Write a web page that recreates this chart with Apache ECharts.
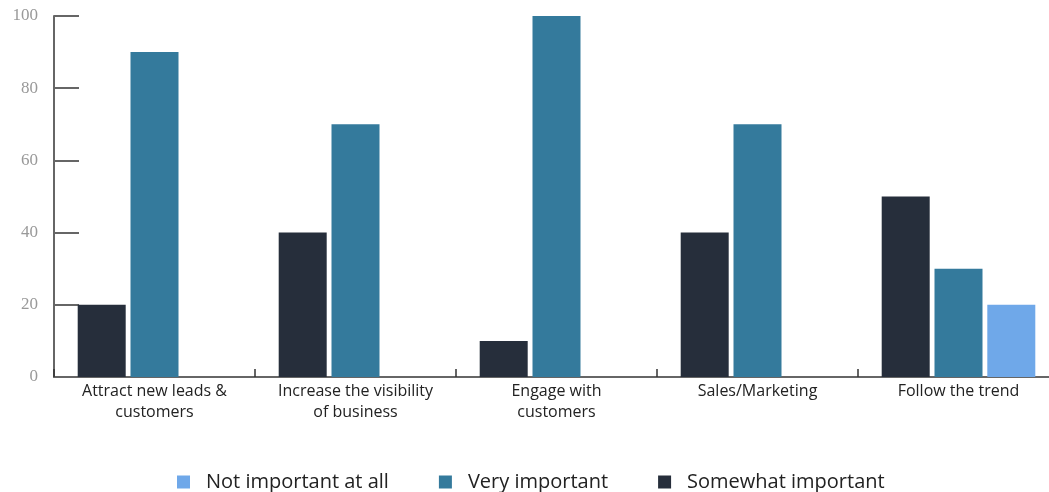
<!DOCTYPE html>
<html>
<head>
<meta charset="utf-8">
<script src="https://cdn.jsdelivr.net/npm/echarts@6/dist/echarts.min.js"></script>
<style>
  html, body { margin: 0; padding: 0; background: #ffffff; }
  #chart { width: 1049px; height: 492px; }
</style>
</head>
<body>
<div id="chart"></div>
<script>
const categories = [
  'Attract new leads &\ncustomers',
  'Increase the visibility\nof business',
  'Engage with\ncustomers',
  'Sales/Marketing',
  'Follow the trend'
]
const somewhatImportant = [20, 40, 10, 40, 50]
const veryImportant = [90, 70, 100, 70, 30]
const notImportant = [null, null, null, null, 20]
const legendOrder = ['Not important at all', 'Very important', 'Somewhat important']

const chart = echarts.init(document.getElementById('chart'))
const option = {
  animation: false,
  grid: { left: 54, width: 1005, top: 16, height: 361, outerBoundsMode: 'none' },
  legend: {
    data: legendOrder,
    top: 467,
    left: 172,
    icon: 'rect',
    itemWidth: 13,
    itemHeight: 13,
    itemGap: 50,
    textStyle: {
      color: '#222222',
      fontSize: 20,
      fontFamily: 'Open Sans',
      padding: [0, 0, 0, 11]
    }
  },
  xAxis: {
    type: 'category',
    data: categories,
    axisLine: { lineStyle: { color: '#666666', width: 2 } },
    // small upward ticks between the groups
    axisTick: { show: true, interval: 0, inside: true, length: 8, lineStyle: { color: '#333333', width: 1.5 } },
    axisLabel: {
      interval: 0,
      color: '#222222',
      fontSize: 16,
      fontFamily: 'Open Sans',
      lineHeight: 21,
      margin: 4
    }
  },
  yAxis: {
    type: 'value',
    min: 0,
    max: 100,
    interval: 20,
    axisLine: { show: true, lineStyle: { color: '#666666', width: 2 } },
    axisTick: { show: true, inside: true, length: 25, lineStyle: { color: '#666666', width: 2 } },
    splitLine: { show: false },
    axisLabel: { color: '#999999', fontSize: 17, fontFamily: 'Liberation Serif', margin: 16 }
  },
  series: [
    {
      name: 'Somewhat important',
      type: 'bar',
      data: somewhatImportant,
      barWidth: 48,
      barGap: '10%',
      itemStyle: { color: '#262e3b' }
    },
    {
      name: 'Very important',
      type: 'bar',
      data: veryImportant,
      barWidth: 48,
      barGap: '10%',
      itemStyle: { color: '#347a9c' }
    },
    {
      name: 'Not important at all',
      type: 'bar',
      data: notImportant,
      barWidth: 48,
      barGap: '10%',
      itemStyle: { color: '#6fa8e9' }
    }
  ]
}
chart.setOption(option)
</script>
</body>
</html>
